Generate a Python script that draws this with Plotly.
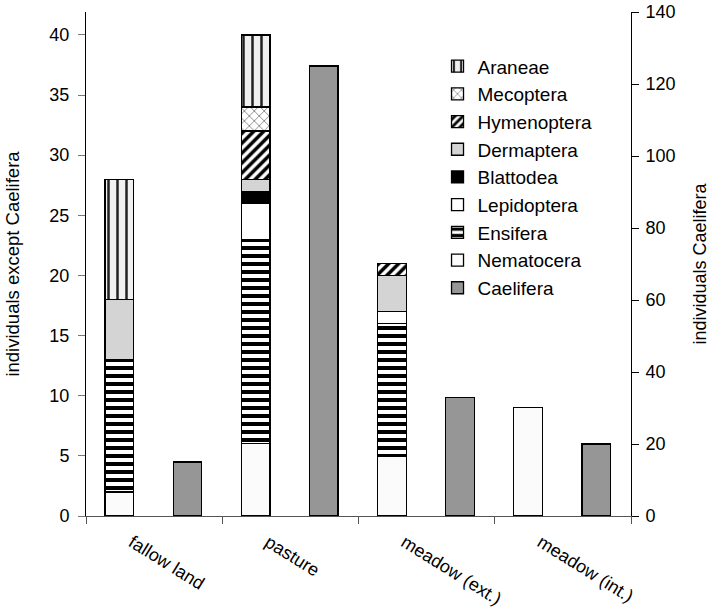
import plotly.graph_objects as go

categories = ["fallow land", "pasture", "meadow (ext.)", "meadow (int.)"]

# individuals except Caelifera (left axis), stacked bottom -> top
nematocera = [2, 6, 5, 9]
ensifera = [11, 17, 11, 0]
lepidoptera = [0, 3, 1, 0]
blattodea = [0, 1, 0, 0]
dermaptera = [5, 1, 3, 0]
hymenoptera = [0, 4, 1, 0]
mecoptera = [0, 2, 0, 0]
araneae = [10, 6, 0, 0]

# Caelifera (right axis)
caelifera = [15, 125, 33, 20]

FONT = "Liberation Sans, Arial, sans-serif"
OFF_L, OFF_R, W = -0.36, 0.14, 0.21
LINE = dict(color="black", width=1.3)

stack_series = [
    ("Nematocera", nematocera, dict(color="#fbfbfb", line=LINE)),
    ("Ensifera", ensifera, dict(color="white", line=LINE,
        pattern=dict(shape="-", fgcolor="black", fgopacity=1, bgcolor="white", size=8, solidity=0.5))),
    ("Lepidoptera", lepidoptera, dict(color="white", line=LINE)),
    ("Blattodea", blattodea, dict(color="black", line=LINE)),
    ("Dermaptera", dermaptera, dict(color="#d4d4d4", line=LINE)),
    ("Hymenoptera", hymenoptera, dict(color="white", line=LINE,
        pattern=dict(shape="/", fgcolor="black", fgopacity=1, bgcolor="white", size=7, solidity=0.5))),
    ("Mecoptera", mecoptera, dict(color="white", line=LINE,
        pattern=dict(shape="x", fgcolor="#555555", fgopacity=1, bgcolor="white", size=7, solidity=0.18))),
    ("Araneae", araneae, dict(color="#f0f0f0", line=LINE,
        pattern=dict(shape="|", fgcolor="#222222", fgopacity=1, bgcolor="#f0f0f0", size=9, solidity=0.28))),
]

fig = go.Figure()
fig.add_trace(go.Bar(
    x=categories, y=caelifera, name="Caelifera", yaxis="y2",
    marker=dict(color="#969696", line=LINE), offset=OFF_R, width=W,
    legendgroup="Caelifera",
))
for name, vals, marker in stack_series:
    fig.add_trace(go.Bar(
        x=categories, y=vals, name=name, marker=marker,
        offset=OFF_L, width=W, legendgroup=name,
    ))

fig.update_layout(
    width=710, height=615,
    margin=dict(l=86, r=79, t=12, b=99),
    barmode="stack",
    plot_bgcolor="white", paper_bgcolor="white",
    font=dict(family=FONT, size=18, color="black"),
    showlegend=True,
    legend=dict(
        x=0.645, y=0.93, xanchor="left", yanchor="top",
        traceorder="reversed", tracegroupgap=8,
        font=dict(size=19), bgcolor="rgba(0,0,0,0)",
    ),
    xaxis=dict(
        type="category", range=[-0.5, 3.5], automargin=False,
        showline=True, linecolor="#555555", linewidth=1,
        ticks="outside", tickson="boundaries", ticklen=7, tickcolor="#555555",
        tickangle=32, ticklabelstandoff=8, ticklabelshift=-22, tickfont=dict(size=18),
        showgrid=False, zeroline=False,
    ),
    yaxis=dict(
        range=[0, 41.9], dtick=5, tick0=0, automargin=False,
        showline=True, linecolor="black", linewidth=1,
        ticks="outside", ticklen=7, tickcolor="#777777", ticklabelstandoff=5,
        showgrid=False, zeroline=False, tickfont=dict(size=18),
        title=dict(text="individuals except Caelifera", font=dict(size=18.5), standoff=24),
    ),
    yaxis2=dict(
        range=[0, 140], dtick=20, tick0=0, overlaying="y", side="right", automargin=False,
        showline=True, linecolor="black", linewidth=1,
        ticks="outside", ticklen=7, tickcolor="black", ticklabelstandoff=3,
        showgrid=False, zeroline=False, tickfont=dict(size=18),
        title=dict(text="individuals Caelifera", font=dict(size=18), standoff=24),
    ),
    yaxis3=dict(
        range=[0, 140], dtick=20, tick0=0, overlaying="y", side="right", automargin=False,
        showline=False, ticks="inside", ticklen=7, tickcolor="black",
        showticklabels=False, showgrid=False, zeroline=False,
    ),
)

fig.write_html("out.html")
